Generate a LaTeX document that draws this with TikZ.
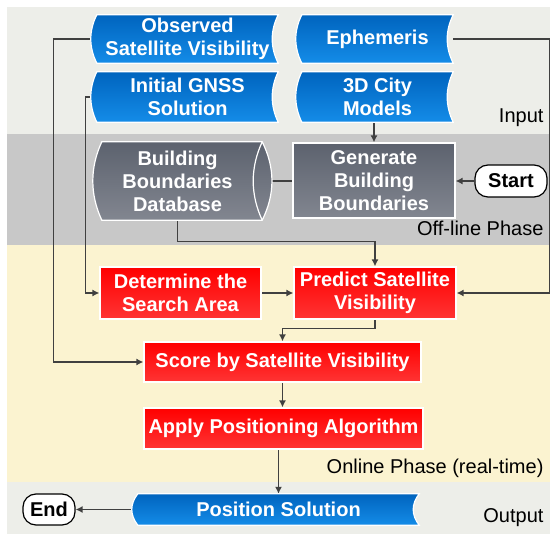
\documentclass[tikz,border=0pt]{standalone}
\usepackage{fontspec}
\setmainfont{Liberation Sans}
\usepackage{xcolor}
\usepackage{tikz}
\usetikzlibrary{positioning, arrows.meta, calc}
\definecolor{bandin}{RGB}{237,238,233}
\definecolor{bandoff}{RGB}{200,200,200}
\definecolor{bandon}{RGB}{251,243,208}
\definecolor{blueA}{RGB}{0,100,190}
\definecolor{blueB}{RGB}{20,140,232}
\definecolor{redA}{RGB}{255,0,0}
\definecolor{redB}{RGB}{255,52,52}
\definecolor{grayA}{RGB}{92,98,110}
\definecolor{grayB}{RGB}{130,134,144}
\definecolor{linegray}{RGB}{64,64,64}
\pgfdeclarelayer{bands}
\pgfdeclarelayer{lines}
\pgfdeclarelayer{shapes}
\pgfsetlayers{bands,lines,shapes,main}
\tikzset{
    box/.style={rectangle, inner sep=0pt, align=center, text=white, font=\bfseries\fontsize{20}{23}\selectfont},
    redbox/.style={box, draw=white, line width=1.2pt, top color=redA, bottom color=redB},
    graybox/.style={box, draw=white, line width=1.2pt, top color=grayA, bottom color=grayB},
    termbox/.style={rectangle, rounded corners=13pt, draw=black, line width=1.2pt, fill=white, inner sep=0pt, font=\bfseries\fontsize{20}{23}\selectfont},
    phase/.style={anchor=east, font=\fontsize{20}{23}\selectfont},
    tapefill/.style={draw=white, line width=1.2pt, top color=blueA, bottom color=blueB},
    dbfill/.style={draw=white, line width=1.2pt, top color=grayA, bottom color=grayB},
    arrow/.style={-{Latex[length=7pt, width=7pt]}, line width=1.3pt, linegray}
}

\begin{document}
\begin{tikzpicture}[x=1pt, y=-1pt]
\useasboundingbox (0,0) rectangle (550,534);

\node[box, minimum width=181pt, minimum height=48pt] (obs) at (187.5,39) {Observed\\Satellite Visibility};
\node[box, minimum width=151pt, minimum height=48pt] (eph) at (377.5,39) {Ephemeris};
\node[box, minimum width=181pt, minimum height=50pt] (ini) at (187.5,97) {Initial GNSS\\Solution};
\node[box, minimum width=151pt, minimum height=50pt] (city) at (377.5,97) {3D City\\Models};
\node[box, minimum width=169pt, minimum height=78pt] (db) at (177.5,181) {Building\\Boundaries\\Database};
\node[graybox, minimum width=162pt, minimum height=75pt] (gen) at (374,180.5) {Generate\\Building\\Boundaries};
\node[termbox, minimum width=72pt, minimum height=32pt] (start) at (511,181) {Start};
\node[redbox, minimum width=161pt, minimum height=52pt] (det) at (180.5,293) {Determine the\\Search Area};
\node[redbox, minimum width=162pt, minimum height=52pt] (pred) at (375,293) {Predict Satellite\\Visibility};
\node[redbox, minimum width=277pt, minimum height=40pt] (score) at (282.5,362) {Score by Satellite Visibility};
\node[redbox, minimum width=279pt, minimum height=41pt] (apply) at (283.5,428.5) {Apply Positioning Algorithm};
\node[box, minimum width=281pt, minimum height=31pt] (pos) at (278.5,509.5) {Position Solution};
\node[termbox, minimum width=52pt, minimum height=31pt] (end) at (49,509.5) {End};

\node[phase] (lin) at (547,118) {Input};
\node[phase] (loff) at (547,228) {Off-line Phase};
\node[phase] (lon) at (547,468) {Online Phase (real-time)};
\node[phase] (lout) at (547,518) {Output};

\begin{pgfonlayer}{bands}
\fill[white] (0,0) rectangle (550,534);
\fill[bandin] (7,7) rectangle (550,134);
\fill[bandoff] (7,134) rectangle (550,245);
\fill[bandon] (7,245) rectangle (550,482);
\fill[bandin] (7,482) rectangle (550,534);
\end{pgfonlayer}

\begin{pgfonlayer}{shapes}
\foreach \n in {obs, eph, ini, city, pos}
    \path[tapefill] (\n.north west)
        .. controls ($(\n.north west)!0.33!(\n.south west)+(-8,0)$) and ($(\n.north west)!0.67!(\n.south west)+(-8,0)$) .. (\n.south west)
        -- (\n.south east)
        .. controls ($(\n.south east)!0.33!(\n.north east)+(-8,0)$) and ($(\n.south east)!0.67!(\n.north east)+(-8,0)$) .. (\n.north east)
        -- cycle;
\path[dbfill] ($(db.north west)+(9,0)$)
    .. controls ($(db.north west)+(-3,26)$) and ($(db.south west)+(-3,-26)$) .. ($(db.south west)+(9,0)$)
    -- (db.south east)
    .. controls ($(db.south east)+(13,-26)$) and ($(db.north east)+(13,26)$) .. (db.north east)
    -- cycle;
\draw[white, line width=1.2pt] (db.north east)
    .. controls ($(db.north east)+(-12,26)$) and ($(db.south east)+(-12,-26)$) .. (db.south east);
\end{pgfonlayer}

\begin{pgfonlayer}{lines}
\draw[arrow] (obs.west) -- ++(-43,0) |- (score.west);
\draw[arrow] (ini.west) -- ++(-11,0) |- (det.west);
\draw[arrow] (eph.east) -- ++(96,0) |- (pred.east);
\draw[arrow] (gen.north |- city.south) -- (gen.north);
\draw[arrow] (start.west) -- (start.west -| gen.east);
\draw[arrow] (gen.west |- db.east) -- (db.east);
\draw[arrow] (db.south) -- ++(0,21) -| (pred.north);
\draw[arrow] (det) -- (pred);
\draw[arrow] (pred.south) -- ++(0,9) -| (score.north);
\draw[arrow] (score.south) -- (score.south |- apply.north);
\draw[arrow] (apply.south -| pos.north) -- (pos.north);
\draw[arrow] (pos.west) -- (end.east);
\end{pgfonlayer}
\end{tikzpicture}
\end{document}
